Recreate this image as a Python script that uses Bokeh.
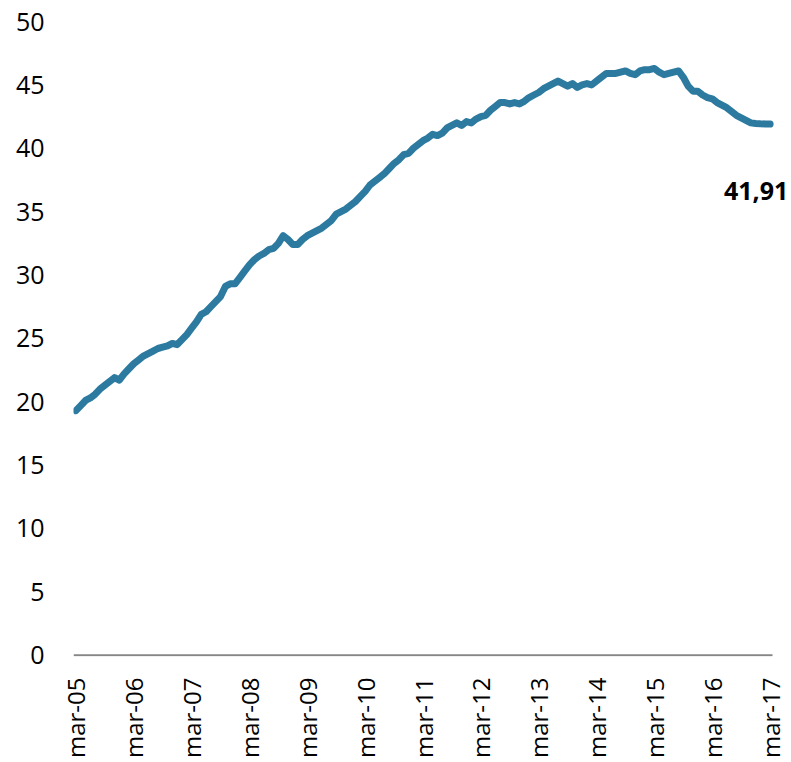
import math
from bokeh.plotting import figure
from bokeh.models import Range1d, FixedTicker, Label
from bokeh.embed import file_html
from bokeh.resources import INLINE

# Monthly series, mar-05 .. mar-17
values = [
    19.3, 19.7, 20.1, 20.3, 20.6, 21.0, 21.3, 21.6, 21.9, 21.7,
    22.2, 22.6, 23.0, 23.3, 23.6, 23.8, 24.0, 24.2, 24.3, 24.4,
    24.6, 24.5, 24.9, 25.3, 25.8, 26.3, 26.9, 27.1, 27.5, 27.9,
    28.3, 29.1, 29.3, 29.3, 29.8, 30.3, 30.8, 31.2, 31.5, 31.7,
    32.0, 32.1, 32.5, 33.1, 32.8, 32.4, 32.4, 32.8, 33.1, 33.3,
    33.5, 33.7, 34.0, 34.3, 34.8, 35.0, 35.2, 35.5, 35.8, 36.2,
    36.6, 37.1, 37.4, 37.7, 38.0, 38.4, 38.8, 39.1, 39.5, 39.6,
    40.0, 40.3, 40.6, 40.8, 41.1, 41.0, 41.2, 41.6, 41.8, 42.0,
    41.8, 42.1, 42.0, 42.3, 42.5, 42.6, 43.0, 43.3, 43.6, 43.6,
    43.5, 43.6, 43.5, 43.7, 44.0, 44.2, 44.4, 44.7, 44.9, 45.1,
    45.3, 45.1, 44.9, 45.1, 44.8, 45.0, 45.1, 45.0, 45.3, 45.6,
    45.9, 45.9, 45.9, 46.0, 46.1, 45.9, 45.8, 46.1, 46.2, 46.2,
    46.3, 46.0, 45.8, 45.9, 46.0, 46.1, 45.6, 44.9, 44.5, 44.5,
    44.2, 44.0, 43.9, 43.6, 43.4, 43.2, 42.9, 42.6, 42.4, 42.2,
    42.0, 41.95, 41.93, 41.92, 41.91,
]
tick_labels = ["mar-05", "mar-06", "mar-07", "mar-08", "mar-09", "mar-10",
               "mar-11", "mar-12", "mar-13", "mar-14", "mar-15", "mar-16", "mar-17"]
y_ticks = [0, 5, 10, 15, 20, 25, 30, 35, 40, 45, 50]
last_label = "41,91"

x = list(range(len(values)))
tick_pos = [12 * i for i in range(len(tick_labels))]
x_start = x[0] - 0.5
x_end = x[-1] + 0.5

p = figure(frame_width=717, frame_height=635, output_backend="svg", toolbar_location=None,
           x_range=Range1d(x_start, x_end + 3.73), y_range=Range1d(-0.1, 50),
           min_border_left=73, min_border_right=0, min_border_top=21, min_border_bottom=0)
p.outline_line_color = None
p.xgrid.grid_line_color = None
p.ygrid.grid_line_color = None
p.background_fill_color = "white"
p.border_fill_color = "white"

# category axis baseline (spans the categories only)
p.segment(x0=[x_start], y0=[0], x1=[x_end], y1=[0], line_color="#868686", line_width=2)

p.line(x, values, line_color="#2C7A9F", line_width=7, line_cap="round", line_join="round")

lbl = Label(x=x[-1], y=values[-1], text=last_label, x_offset=-14, y_offset=-67,
            text_align="center", text_baseline="middle", text_font="Open Sans",
            text_font_style="bold", text_font_size="25px", text_color="#000000")
p.add_layout(lbl)

xa = p.xaxis[0]
xa.ticker = FixedTicker(ticks=tick_pos)
xa.major_label_overrides = {t: l for t, l in zip(tick_pos, tick_labels)}
xa.major_label_orientation = math.pi / 2
xa.axis_line_color = None
xa.major_tick_line_color = None
xa.minor_tick_line_color = None
xa.major_tick_out = 0
xa.major_tick_in = 0
xa.major_label_standoff = 21
xa.major_label_text_font = "Open Sans"
xa.major_label_text_font_size = "24px"
xa.major_label_text_color = "#000000"

ya = p.yaxis[0]
ya.ticker = FixedTicker(ticks=y_ticks)
ya.axis_line_color = None
ya.major_tick_line_color = None
ya.minor_tick_line_color = None
ya.major_tick_out = 0
ya.major_tick_in = 0
ya.major_label_standoff = 29
ya.major_label_text_font = "Open Sans"
ya.major_label_text_font_size = "25px"
ya.major_label_text_color = "#000000"

open("out.html", "w").write(file_html(p, INLINE))
